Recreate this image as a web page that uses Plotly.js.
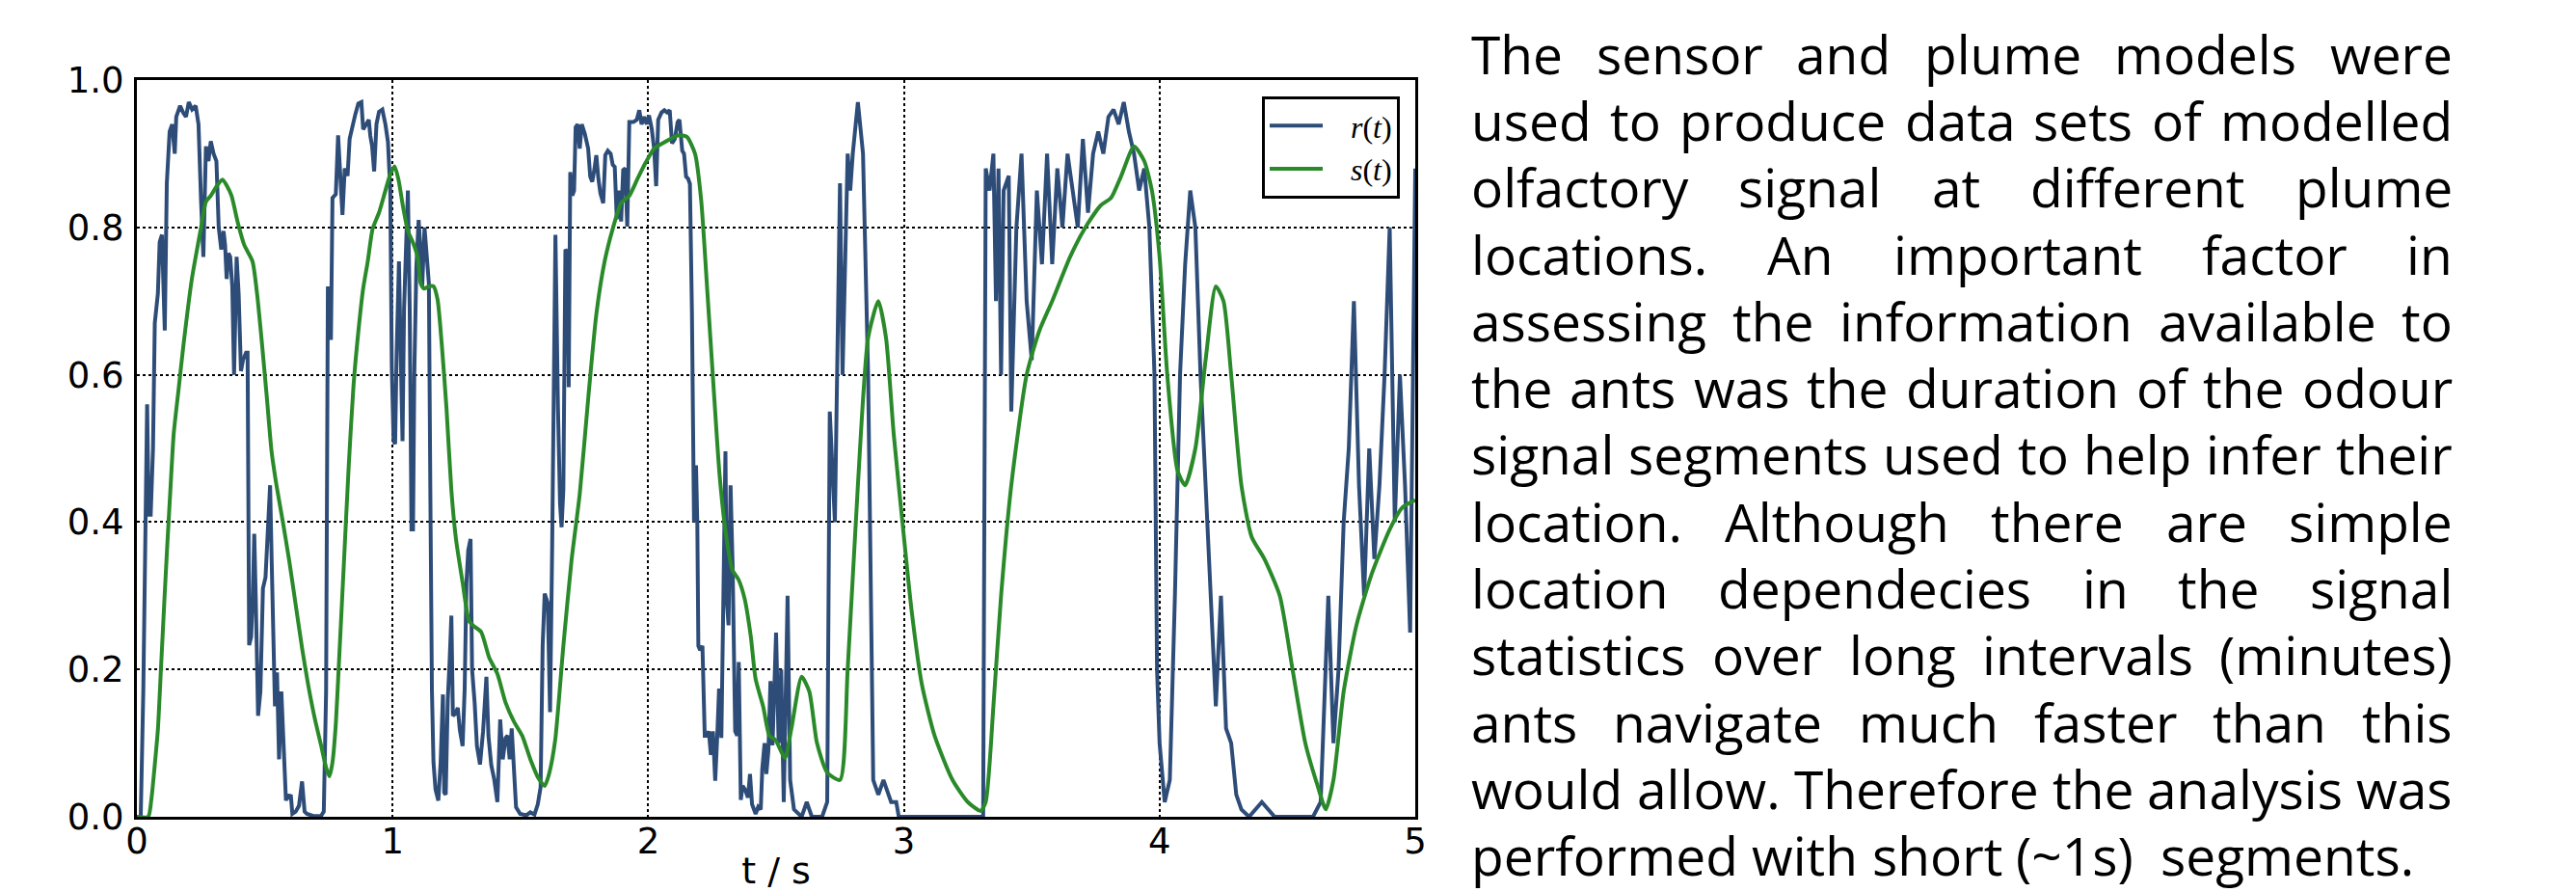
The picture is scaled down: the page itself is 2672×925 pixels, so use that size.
<!DOCTYPE html>
<html>
<head>
<meta charset="utf-8">
<script src="https://cdn.plot.ly/plotly-3.0.1.min.js"></script>
<style>
html,body{margin:0;padding:0;background:#fff;}
#chart{width:2672px;height:925px;}
</style>
</head>
<body>
<div id="chart"></div>
<script>
// ---- data: r(t) sensor response ----
const tR = [0,0.015,0.025,0.04,0.046,0.054,0.063,0.07,0.082,0.089,0.098,0.109,0.117,0.128,0.138,0.148,0.154,0.169,0.182,0.192,0.203,0.216,0.23,0.241,0.251,0.26,0.27,0.28,0.289,0.30,0.311,0.32,0.33,0.339,0.345,0.351,0.358,0.365,0.373,0.38,0.39,0.398,0.407,0.415,0.427,0.433,0.439,0.447,0.453,0.459,0.465,0.474,0.483,0.493,0.503,0.512,0.521,0.527,0.533,0.54,0.548,0.556,0.565,0.571,0.577,0.583,0.59,0.596,0.602,0.608,0.621,0.634,0.646,0.656,0.665,0.69,0.72,0.731,0.74,0.747,0.752,0.759,0.765,0.778,0.787,0.794,0.804,0.813,0.824,0.832,0.844,0.854,0.866,0.878,0.885,0.897,0.907,0.913,0.92,0.928,0.937,0.947,0.96,0.972,0.982,0.991,0.997,1.004,1.01,1.016,1.025,1.033,1.039,1.045,1.052,1.06,1.067,1.074,1.08,1.085,1.093,1.102,1.108,1.116,1.125,1.133,1.142,1.148,1.154,1.16,1.168,1.179,1.188,1.197,1.202,1.208,1.216,1.223,1.23,1.236,1.246,1.255,1.263,1.274,1.282,1.289,1.296,1.305,1.311,1.321,1.33,1.342,
1.354,1.367,1.375,1.386,1.397,1.41,1.421,1.431,1.442,1.45,1.458,1.466,1.475,1.483,1.499,1.523,1.539,1.555,1.568,1.579,1.587,1.595,1.607,1.616,1.624,1.631,1.637,1.647,1.655,1.661,1.668,1.676,1.684,1.689,1.695,1.703,1.71,1.716,1.724,1.732,1.74,1.752,1.765,1.773,1.781,1.789,1.797,1.805,1.813,1.824,1.832,1.842,1.853,1.861,1.869,1.877,1.886,1.894,1.902,1.91,1.918,1.926,1.942,1.955,1.965,1.974,1.984,1.994,2.003,2.014,2.023,2.031,2.039,2.052,2.063,2.074,2.084,2.093,2.104,2.115,2.122,2.133,2.14,2.148,2.156,2.163,2.171,2.179,2.187,2.192,2.196,2.203,2.212,2.221,2.229,2.237,2.245,2.253,2.262,2.27,2.277,2.286,2.294,2.302,2.307,2.314,2.322,2.33,2.34,2.348,2.354,2.362,2.369,2.38,2.39,2.398,2.406,2.414,2.42,2.43,2.44,2.446,2.455,2.462,2.47,2.478,2.486,
2.5,2.51,2.52,2.53,2.545,2.555,2.57,2.6,2.62,2.64,2.68,2.7,2.71,2.73,2.75,2.76,2.78,2.79,2.8,2.82,2.84,2.86,2.88,2.9,2.92,2.95,2.97,2.98,3.3,
3.31,3.32,3.335,3.35,3.36,3.37,3.38,3.39,3.41,3.42,3.44,3.46,3.48,3.5,3.52,3.54,3.56,3.58,3.6,3.62,3.64,3.66,3.68,3.7,3.72,3.74,3.76,3.78,3.8,3.82,3.84,3.86,3.88,3.9,3.92,3.94,3.96,3.98,3.99,4.0,4.02,4.04,4.06,4.08,4.1,4.12,4.14,4.16,4.18,4.2,4.22,4.24,4.26,4.28,4.3,4.32,4.35,4.4,4.45,4.6,4.63,4.66,4.68,4.7,4.72,4.74,4.76,4.78,4.8,4.82,4.84,4.86,4.88,4.9,4.92,4.94,4.96,4.98,5.0];
const rVals = [0,0,0.17,0.56,0.41,0.41,0.50,0.67,0.71,0.78,0.79,0.66,0.86,0.93,0.94,0.90,0.95,0.965,0.955,0.95,0.97,0.96,0.965,0.94,0.835,0.76,0.91,0.89,0.917,0.90,0.89,0.80,0.77,0.795,0.776,0.73,0.765,0.76,0.72,0.60,0.76,0.71,0.605,0.62,0.63,0.63,0.233,0.244,0.296,0.384,0.296,0.137,0.17,0.31,0.325,0.39,0.45,0.35,0.244,0.15,0.196,0.078,0.17,0.11,0.067,0.022,0.03,0.027,0.03,0.004,0.007,0.015,0.048,0.007,0.004,0.001,0.001,0.007,0.17,0.72,0.65,0.65,0.84,0.845,0.925,0.87,0.817,0.88,0.87,0.92,0.94,0.953,0.968,0.97,0.933,0.94,0.946,0.924,0.91,0.876,0.94,0.957,0.96,0.94,0.916,0.85,0.61,0.51,0.506,0.63,0.754,0.61,0.51,0.69,0.776,0.85,0.69,0.39,0.39,0.60,0.746,0.81,0.776,0.72,0.80,0.76,0.724,0.43,0.17,0.074,0.037,0.022,0.074,0.166,0.033,0.03,0.16,0.21,0.273,0.137,0.14,0.148,0.118,0.096,0.174,0.318,0.362,0.377,0.20,0.155,0.096,0.071,
0.116,0.19,0.11,0.07,0.052,0.02,0.132,0.078,0.107,0.11,0.078,0.12,0.065,0.013,0.004,0.002,0.006,0.003,0.017,0.04,0.232,0.303,0.29,0.142,0.36,0.618,0.79,0.554,0.425,0.393,0.444,0.77,0.766,0.583,0.875,0.843,0.85,0.936,0.94,0.907,0.94,0.927,0.907,0.869,0.862,0.878,0.898,0.866,0.846,0.833,0.898,0.904,0.9,0.885,0.882,0.811,0.85,0.808,0.878,0.88,0.801,0.943,0.943,0.946,0.959,0.94,0.95,0.94,0.952,0.933,0.907,0.856,0.946,0.956,0.959,0.956,0.959,0.914,0.92,0.943,0.946,0.904,0.90,0.869,0.866,0.859,0.682,0.4,0.477,0.396,0.232,0.226,0.232,0.11,0.11,0.116,0.084,0.116,0.049,0.11,0.174,0.107,0.309,0.496,0.296,0.26,0.45,0.341,0.116,0.11,0.21,0.023,0.042,0.036,0.026,0.058,0.017,0.01,0.004,0.0135,0.01,0.065,0.1,0.058,0.09,0.184,0.097,
0.25,0.1,0.2,0.02,0.3,0.05,0.01,0.0,0.02,0.0,0.0,0.02,0.55,0.4,0.86,0.6,0.9,0.85,0.9,0.97,0.9,0.6,0.05,0.03,0.05,0.02,0.02,0.0,0.0,
0.0,0.88,0.85,0.9,0.7,0.88,0.6,0.85,0.87,0.55,0.8,0.9,0.7,0.62,0.85,0.75,0.9,0.75,0.88,0.8,0.9,0.85,0.8,0.92,0.82,0.9,0.93,0.9,0.95,0.96,0.94,0.97,0.93,0.9,0.85,0.88,0.8,0.6,0.2,0.1,0.02,0.05,0.3,0.6,0.75,0.85,0.8,0.6,0.45,0.3,0.15,0.3,0.12,0.1,0.03,0.01,0.0,0.02,0.0,0.0,0.02,0.3,0.1,0.2,0.4,0.5,0.7,0.45,0.3,0.5,0.35,0.45,0.6,0.8,0.4,0.6,0.45,0.25,0.88];

// ---- data: s(t) model output ----
const tS = [0,0.044,0.056,0.069,0.082,0.094,0.107,0.119,0.132,0.144,0.163,0.182,0.215,0.251,0.27,0.289,0.314,0.335,0.351,0.37,0.395,0.42,0.452,0.47,0.489,0.508,0.527,0.546,0.571,0.596,0.621,0.646,0.671,0.696,0.721,0.74,0.753,0.765,0.778,0.79,0.809,0.828,0.847,0.866,0.885,0.903,0.922,0.947,0.972,0.991,1.008,1.023,1.041,1.06,1.079,1.098,1.11,1.123,1.142,1.16,1.176,1.192,1.211,1.23,1.248,1.274,1.299,1.317,1.346,1.378,1.41,1.442,1.475,1.507,1.539,1.571,1.595,1.612,1.636,1.668,1.7,1.732,1.765,1.797,1.829,1.861,1.894,1.926,1.958,1.99,2.023,2.055,2.087,2.119,2.151,2.183,2.207,2.231,2.255,2.279,2.303,2.329,2.353,2.377,2.401,2.42,2.45,2.474,2.498,2.535,2.56,2.6,2.63,2.66,2.7,2.75,2.78,2.82,2.86,2.9,2.93,2.96,3.0,3.03,3.07,3.12,3.19,3.25,3.3,3.32,3.35,3.38,3.42,3.48,3.53,3.58,3.65,3.71,3.77,3.81,3.85,3.9,3.94,3.97,4.0,4.03,4.07,4.1,4.14,4.18,4.22,4.25,4.28,4.32,4.36,4.41,4.47,4.52,4.57,4.62,4.65,4.68,4.72,4.77,4.83,4.9,4.95,5.0];
const sVals = [0,0,0.022,0.067,0.118,0.2,0.29,0.37,0.45,0.52,0.58,0.64,0.73,0.8,0.835,0.843,0.857,0.865,0.857,0.843,0.806,0.776,0.754,0.71,0.643,0.57,0.495,0.45,0.40,0.347,0.288,0.229,0.177,0.133,0.096,0.067,0.055,0.074,0.126,0.207,0.34,0.473,0.584,0.658,0.717,0.754,0.798,0.82,0.85,0.872,0.883,0.865,0.828,0.795,0.78,0.76,0.724,0.717,0.72,0.72,0.702,0.643,0.554,0.443,0.377,0.318,0.266,0.259,0.251,0.216,0.194,0.155,0.129,0.11,0.078,0.052,0.042,0.058,0.104,0.232,0.348,0.438,0.567,0.682,0.753,0.798,0.833,0.843,0.866,0.888,0.907,0.914,0.92,0.925,0.923,0.9,0.837,0.714,0.586,0.464,0.386,0.335,0.322,0.296,0.245,0.187,0.149,0.11,0.104,0.08,0.12,0.19,0.17,0.1,0.06,0.05,0.2,0.45,0.65,0.7,0.65,0.52,0.38,0.28,0.18,0.11,0.05,0.02,0.008,0.02,0.15,0.3,0.45,0.6,0.66,0.7,0.76,0.8,0.83,0.84,0.87,0.91,0.89,0.85,0.76,0.6,0.47,0.45,0.5,0.62,0.72,0.7,0.6,0.45,0.38,0.35,0.3,0.2,0.1,0.04,0.01,0.05,0.17,0.26,0.33,0.39,0.42,0.43];

const xTicks = [0,1,2,3,4,5];
const yTicks = [0.0,0.2,0.4,0.6,0.8,1.0];
const NB = '\u00A0';
const seriesNames = [NB + NB + NB + '<i>r</i>(<i>t</i>)', NB + NB + NB + '<i>s</i>(<i>t</i>)'];
const xTitle = 't / s';

const paragraph = [
 'The sensor and plume models were',
 'used to produce data sets of modelled',
 'olfactory signal at different plume',
 'locations. An important factor in',
 'assessing the information available to',
 'the ants was the duration of the odour',
 'signal segments used to help infer their',
 'location. Although there are simple',
 'location dependecies in the signal',
 'statistics over long intervals (minutes)',
 'ants navigate much faster than this',
 'would allow. Therefore the analysis was',
 'performed with short (~1s)  segments.'
];

// ---- layout helpers ----
const W = 2672, H = 925;
const plotL = 142, plotR = 1468, plotT = 83, plotB = 847;

const textFont = 'Open Sans';
const textLeft = 1525, textRight = 2543, firstBase = 75, linePitch = 69.3;
const ctx = document.createElement('canvas').getContext('2d');
function meas(s, fs){ ctx.font = fs + 'px "' + textFont + '"'; return ctx.measureText(s).width; }
let maxNat = 0;
paragraph.forEach(l => { maxNat = Math.max(maxNat, meas(l, 100)); });
const fs = Math.min(58, 100 * (textRight - textLeft) / maxNat);

const annotations = [];
function addWord(w, x, yc){
  annotations.push({text: w, x: x / W, y: 1 - yc / H, xref: 'paper', yref: 'paper',
    xanchor: 'left', yanchor: 'middle', showarrow: false, borderpad: 0,
    font: {family: textFont, size: fs, color: '#000'}});
}
paragraph.forEach((line, i) => {
  const base = firstBase + i * linePitch;
  const yc = base - 0.36 * fs;
  const last = (i === paragraph.length - 1);
  const words = line.split(' ').filter(w => w.length);
  if (last) {
    let idx = 0;
    words.forEach(w => {
      const pos = line.indexOf(w, idx);
      addWord(w, textLeft + meas(line.substring(0, pos), fs), yc);
      idx = pos + w.length;
    });
  } else {
    const widths = words.map(w => meas(w, fs));
    const total = widths.reduce((a, b) => a + b, 0);
    const gap = (textRight - textLeft - total) / (words.length - 1);
    let x = textLeft;
    words.forEach((w, k) => { addWord(w, x, yc); x += widths[k] + gap; });
  }
});

const traces = [
  {x: tR, y: rVals, type: 'scatter', mode: 'lines', name: seriesNames[0], line: {color: '#2d4c78', width: 4}},
  {x: tS, y: sVals, type: 'scatter', mode: 'lines', name: seriesNames[1], line: {color: '#2a8a2a', width: 4, shape: 'spline', smoothing: 0.6}}
];

const axisCommon = {
  showline: true, mirror: true, linecolor: '#000', linewidth: 3,
  showgrid: true, gridcolor: '#000', gridwidth: 2, griddash: 'dot',
  zeroline: false, ticks: '',
  tickfont: {family: 'DejaVu Sans', size: 37, color: '#000'}
};

const layout = {
  width: W, height: H,
  margin: {l: 0, r: 0, t: 0, b: 0, pad: 0},
  paper_bgcolor: '#fff', plot_bgcolor: '#fff',
  showlegend: true,
  xaxis: Object.assign({}, axisCommon, {
    domain: [plotL / W, plotR / W], range: [0, 5], tickvals: xTicks, ticktext: xTicks.map(String),
    ticklabelstandoff: -9,
    title: {text: xTitle, font: {family: 'DejaVu Sans', size: 38, color: '#000'}, standoff: 17}
  }),
  yaxis: Object.assign({}, axisCommon, {
    domain: [1 - plotB / H, 1 - plotT / H], range: [0, 1], tickvals: yTicks, ticktext: yTicks.map(v => v.toFixed(1)),
    ticklabelstandoff: 3
  }),
  legend: {
    x: 1452 / W, y: 1 - 100 / H, xanchor: 'right', yanchor: 'top',
    bgcolor: '#fff', bordercolor: '#000', borderwidth: 3,
    font: {family: 'Liberation Serif', size: 32, color: '#000'},
    itemwidth: 55, tracegroupgap: 0
  },
  annotations: annotations
};

Plotly.newPlot('chart', traces, layout, {staticPlot: true, displayModeBar: false});
</script>
</body>
</html>
